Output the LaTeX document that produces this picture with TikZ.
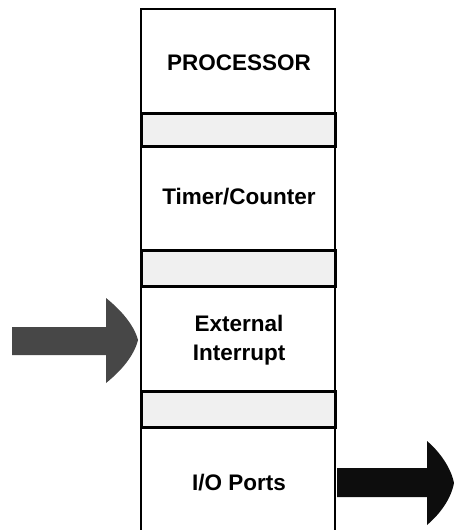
\documentclass[tikz,border=0pt]{standalone}
\usepackage{fontspec}
\setmainfont{Liberation Sans}
\begin{document}
\begin{tikzpicture}[x=1pt,y=-1pt,
  lbl/.style={font=\fontsize{22.5}{24}\selectfont\bfseries, inner sep=0pt, anchor=center},
  band/.style={fill=black!6, draw=black, line width=3pt},
  frame/.style={draw=black, line width=2pt}]
\useasboundingbox (0,0) rectangle (454,530);
% outer frame (open at bottom)
\draw[frame] (141,531) -- (141,9) -- (335,9) -- (335,531);
% bands
\draw[band] (141,113) rectangle (335,146);
\draw[band] (141,250) rectangle (335,286);
\draw[band] (141,391) rectangle (335,427);
% labels
\node[lbl] (proc) at (239,63) {PROCESSOR};
\node[lbl] (timer) at (239,197) {Timer/Counter};
\node[lbl] (ext) at (239,323) {External};
\node[lbl] (intr) at (239,355) {Interrupt};
\node[lbl] (io) at (239,483) {I/O Ports};
% left input arrow
\fill[black!72] (12,327) -- (106,327) -- (106,298)
  .. controls (121,310) and (134,325) .. (138,340)
  .. controls (134,356) and (121,371) .. (106,383)
  -- (106,355) -- (12,355) -- cycle;
% right output arrow
\fill[black!95] (337,468) -- (427,468) -- (427,441)
  .. controls (440,452) and (451,468) .. (454,483)
  .. controls (451,499) and (440,514) .. (427,525)
  -- (427,497) -- (337,497) -- cycle;
\end{tikzpicture}
\end{document}
